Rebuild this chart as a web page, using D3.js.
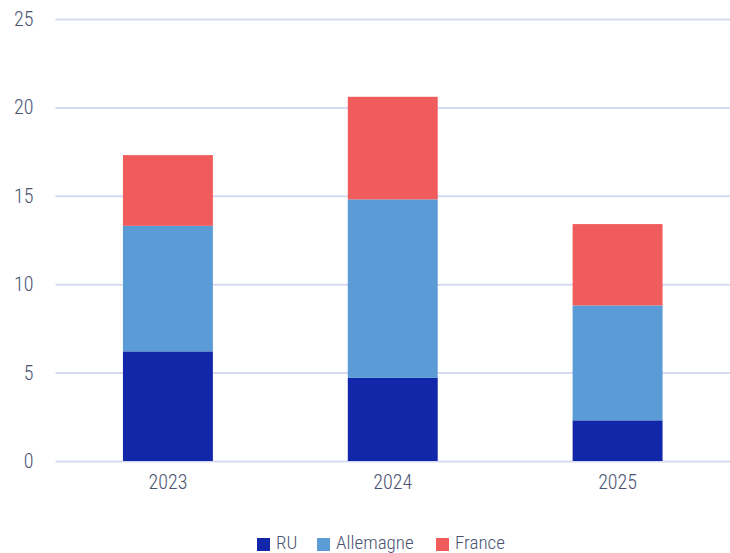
<!DOCTYPE html>
<html>
<head>
<meta charset="utf-8">
<script src="https://cdn.jsdelivr.net/npm/d3@7"></script>
<style>
  html, body { margin: 0; padding: 0; background: #fff; }
  svg { display: block; }
  text { font-family: "Roboto Condensed", "Liberation Sans Narrow", "Liberation Sans", sans-serif; font-weight: 300; fill: #4b5373; }
</style>
</head>
<body>
<svg id="chart" width="730" height="553"></svg>
<script>
// Stacked values per year
const years = ["2023", "2024", "2025"];
const seriesNames = ["RU", "Allemagne", "France"];
const ruValues = [6.2, 4.7, 2.3];
const allemagneValues = [7.1, 10.1, 6.5];
const franceValues = [4.0, 5.8, 4.6];
const yTicks = [0, 5, 10, 15, 20, 25];
const colors = ["#1226a9", "#5b9bd6", "#f05b5c"];

const rows = years.map((y, i) => ({
  year: y,
  RU: ruValues[i],
  Allemagne: allemagneValues[i],
  France: franceValues[i]
}));

const svg = d3.select("#chart");
const margin = { left: 55.5, right: 0, top: 19, bottom: 92 };
const W = 730, H = 553;
const fontStack = '"Roboto Condensed", "Liberation Sans Narrow", sans-serif';

const x = d3.scaleBand()
  .domain(years)
  .range([margin.left, W - margin.right])
  .paddingInner(0.6)
  .paddingOuter(0.3);

const y = d3.scaleLinear()
  .domain([0, 25])
  .range([H - margin.bottom, margin.top]);

// Gridlines + y labels
const yAxis = d3.axisLeft(y)
  .tickValues(yTicks)
  .tickSize(-(W - margin.left))
  .tickPadding(22);

const gy = svg.append("g")
  .attr("transform", `translate(${margin.left},0)`)
  .call(yAxis);
gy.select(".domain").remove();
gy.selectAll(".tick line").attr("stroke", "#d5daf0").attr("stroke-width", 2);
gy.selectAll(".tick text")
  .attr("font-size", 20)
  .attr("fill", "#4b5373")
  .style("font-family", fontStack)
  .style("font-weight", 300);

// Stacked bars
const stack = d3.stack().keys(seriesNames);
const stacked = stack(rows);
const color = d3.scaleOrdinal().domain(seriesNames).range(colors);

svg.append("g")
  .selectAll("g")
  .data(stacked)
  .join("g")
  .attr("fill", d => color(d.key))
  .selectAll("rect")
  .data(d => d)
  .join("rect")
  .attr("x", d => x(d.data.year))
  .attr("width", x.bandwidth())
  .attr("y", d => y(d[1]))
  .attr("height", d => y(d[0]) - y(d[1]));

// X labels
const xAxis = d3.axisBottom(x).tickSize(0).tickPadding(14);
const gx = svg.append("g")
  .attr("transform", `translate(0,${H - margin.bottom})`)
  .call(xAxis);
gx.select(".domain").remove();
gx.selectAll(".tick text")
  .attr("font-size", 20)
  .attr("fill", "#4b5373")
  .style("font-family", fontStack)
  .style("font-weight", 300);

// Legend
const legendX = [257, 317, 436];
const legend = svg.append("g");
seriesNames.forEach((name, i) => {
  legend.append("rect")
    .attr("x", legendX[i])
    .attr("y", 538)
    .attr("width", 13)
    .attr("height", 13)
    .attr("fill", colors[i]);
  legend.append("text")
    .attr("x", legendX[i] + 19)
    .attr("y", 549)
    .attr("font-size", 19)
    .text(name);
});
</script>
</body>
</html>
